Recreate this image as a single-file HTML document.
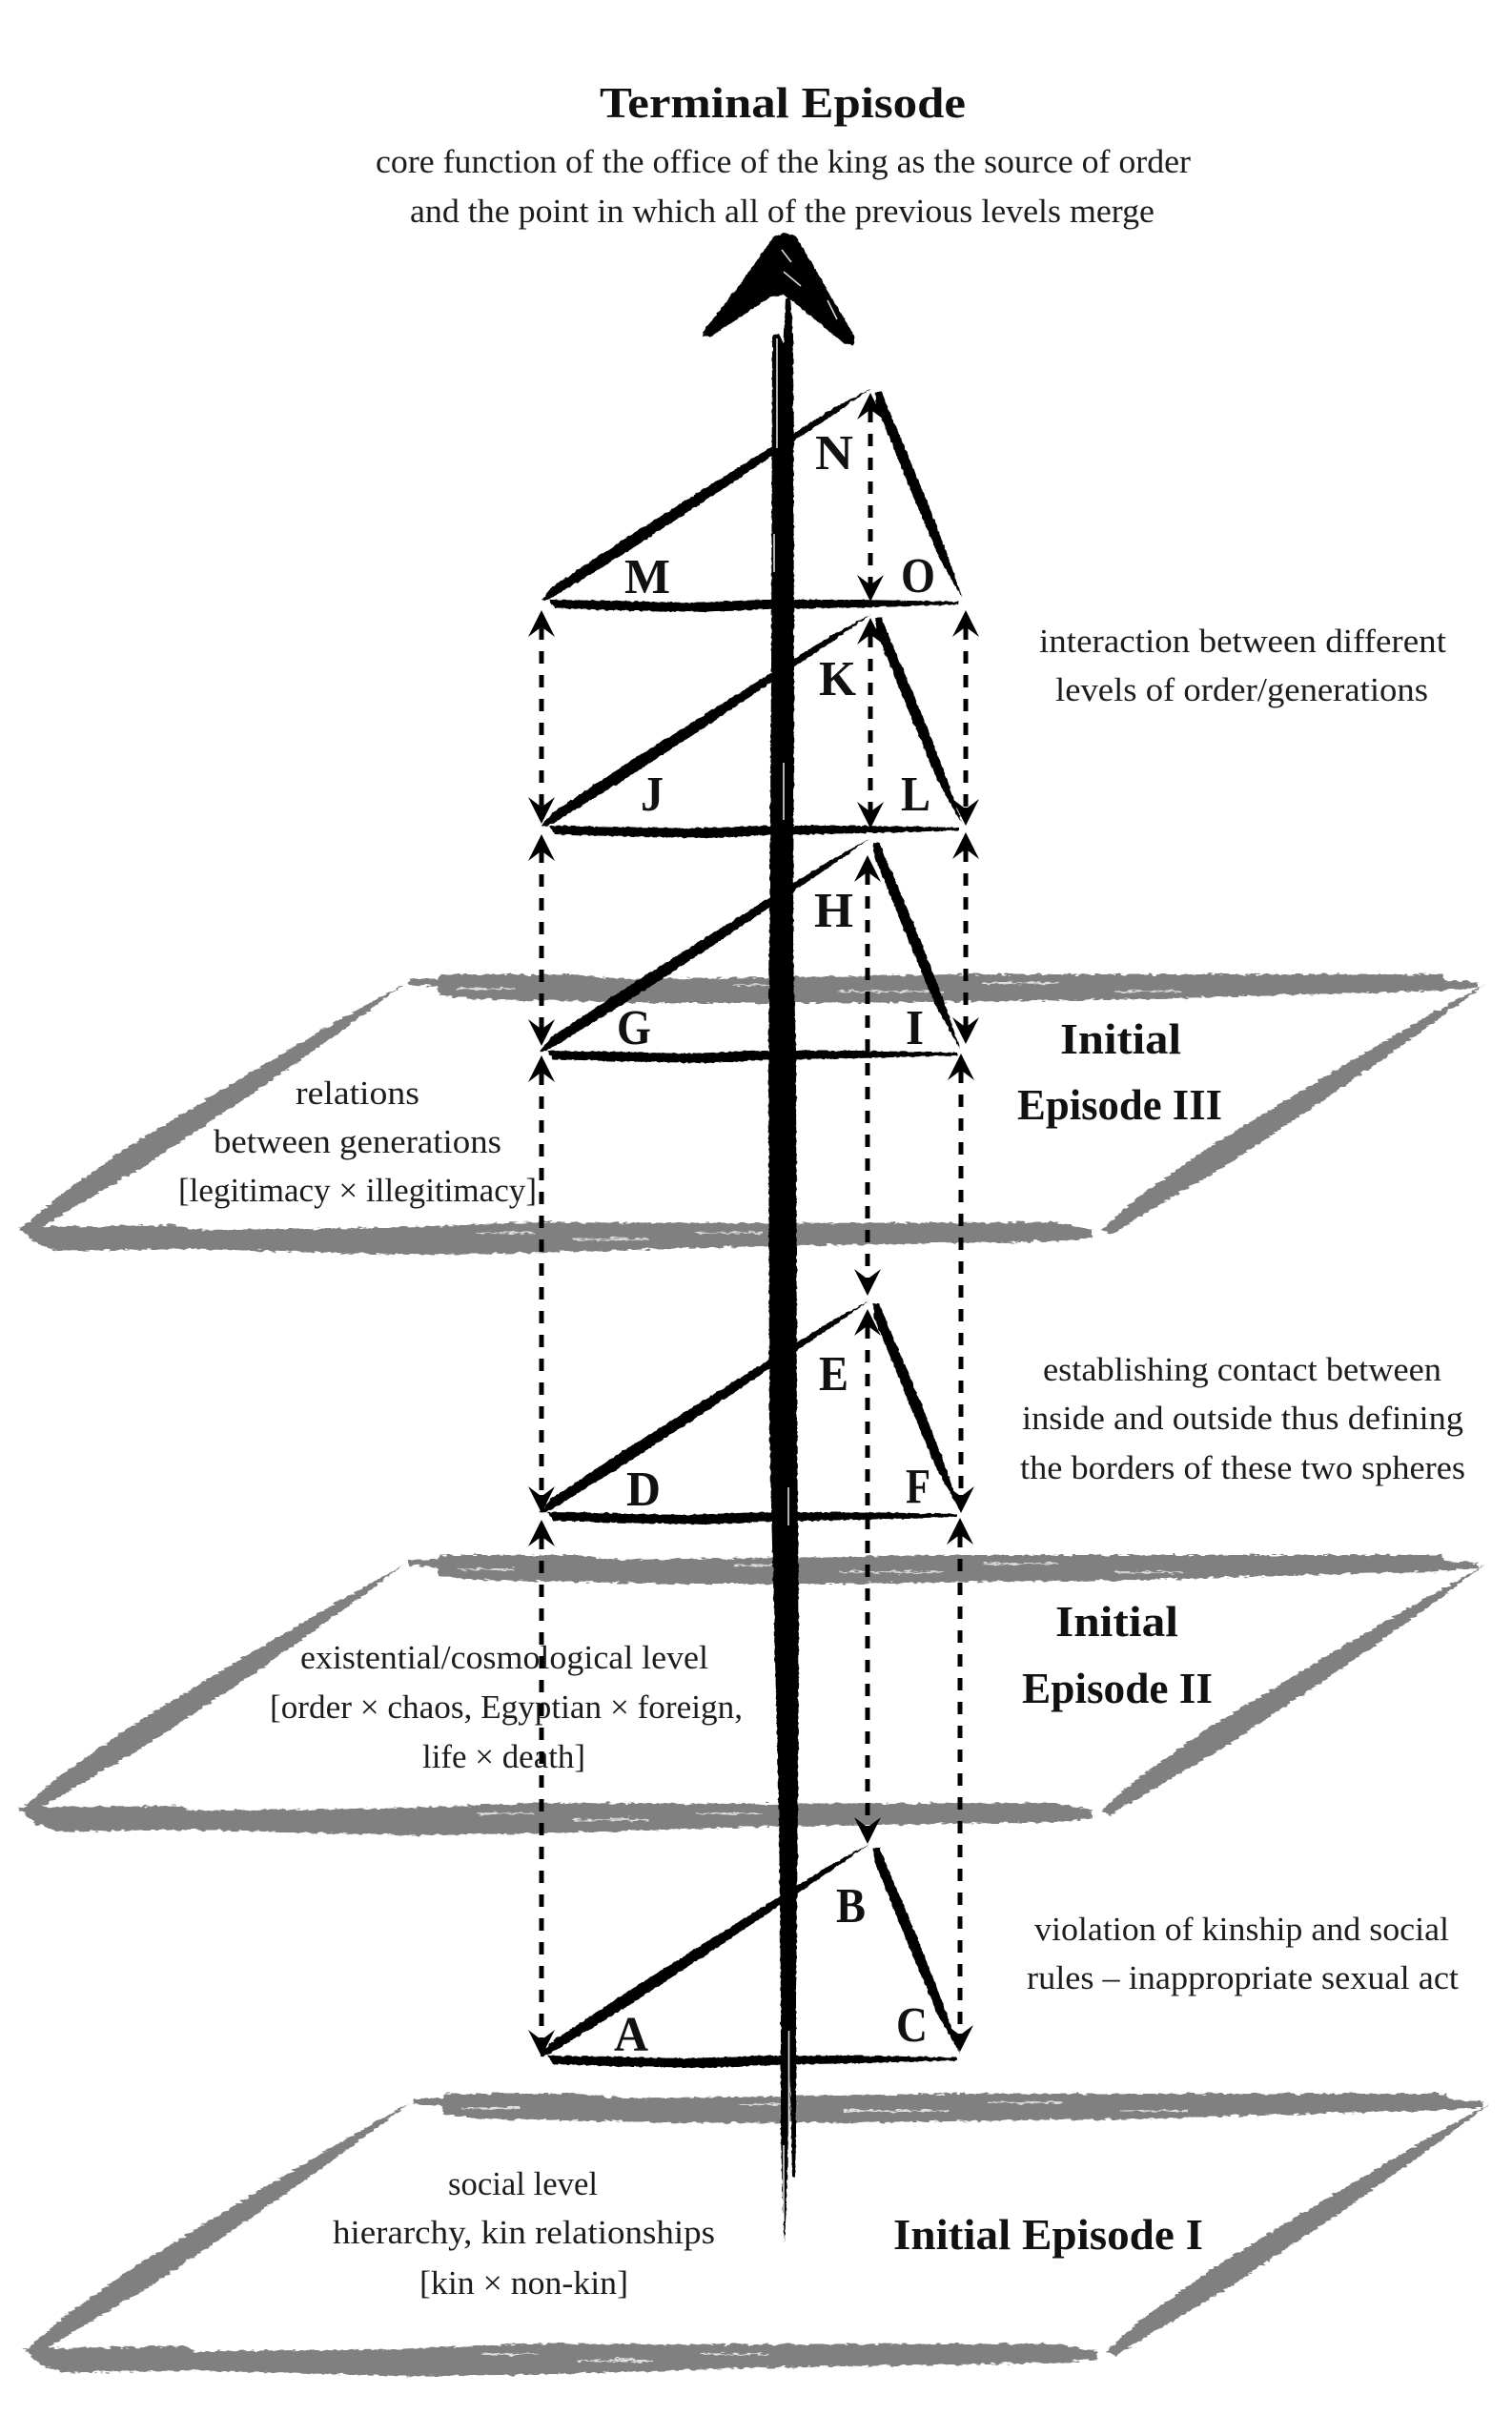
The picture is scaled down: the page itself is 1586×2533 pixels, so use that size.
<!DOCTYPE html>
<html lang="en"><head><meta charset="utf-8"><title>Episodes diagram</title>
<style>
html,body{margin:0;padding:0;background:#fff}
svg{display:block}
text{font-family:"Liberation Serif",serif;fill:#1c1c1c;font-size:35px}
.b{font-weight:bold;font-size:46px;fill:#111}
.l{font-weight:bold;font-size:52px;fill:#111}
</style></head><body>
<svg xmlns="http://www.w3.org/2000/svg" width="1586" height="2533" viewBox="0 0 1586 2533">
<defs>
<filter id="rg" filterUnits="userSpaceOnUse" x="0" y="0" width="1586" height="2533">
<feTurbulence type="fractalNoise" baseFrequency="0.12 0.35" numOctaves="2" seed="4" result="n"/>
<feDisplacementMap in="SourceGraphic" in2="n" scale="6" xChannelSelector="R" yChannelSelector="G"/>
</filter>
<filter id="rk" filterUnits="userSpaceOnUse" x="0" y="0" width="1586" height="2533">
<feTurbulence type="fractalNoise" baseFrequency="0.2" numOctaves="2" seed="9" result="n"/>
<feDisplacementMap in="SourceGraphic" in2="n" scale="3" xChannelSelector="R" yChannelSelector="G"/>
</filter>
<polygon id="sl" points="21,1290 58,1257 135,1202.6 256.6,1128.6 358.3,1068.8 424,1032 363.7,1077.2 267.4,1145.4 149,1224.4 68,1272 31,1295"/>
<g id="plane">
<use href="#sl"/>
<use href="#sl" x="1134"/>
<polygon points="429,1027 460,1027 462,1022 600,1022 650,1027 800,1025 1000,1022 1200,1022 1512,1022 1515,1028 1550,1030 1550,1036 1510,1039 1330,1044 1200,1048 900,1052 700,1052 500,1048 461,1044 458,1034 429,1033"/>
<polygon points="19,1287 190,1285 200,1290 400,1288 560,1282 800,1283 1107,1282 1146,1290 1146,1298 1107,1302 800,1307 560,1314 430,1316 200,1310 60,1312 38,1304"/>
<g stroke="#fff" stroke-width="1.6" fill="none" opacity=".75">
<path d="M770 1033H830M880 1040H990M1030 1031H1110M1170 1040H1240M480 1037H540"/>
<path d="M500 1293H560M600 1300H680M730 1293H800M640 1298H660"/>
</g>
</g>
<g id="tri">
<polygon points="566,1102 578,1088 652,1039 736.8,985.500 805,943 873,901 912,880 875,906 808.200,951 741.200,996 657,1051 582,1097 570,1103"/>
<polygon points="916,884 923,884 927,895 967,990 992,1055 1007,1100 983,1058 956,994 917,898"/>
<polygon points="574,1102 640,1103 720,1105 800,1102 900,1102 1004,1104 1004,1107 900,1110 800,1112 740,1115 640,1113 580,1111"/>
</g>
<polygon id="u" points="0,0 14,28 2,19 -2,19 -14,28" fill="#000"/>
<polygon id="d" points="0,0 14,-28 2,-19 -2,-19 -14,-28" fill="#000"/>
</defs>
<rect width="1586" height="2533" fill="#fff"/>

<!-- planes -->
<g fill="#808080" filter="url(#rg)">
<use href="#plane"/>
<use href="#plane" transform="translate(0,609)"/>
<use href="#plane" transform="matrix(1,0,0,1.008,5,1165.8)"/>
</g>

<!-- labels -->
<text class="b" x="629" y="123" textLength="384" lengthAdjust="spacingAndGlyphs">Terminal Episode</text>
<text x="394" y="181" textLength="855" lengthAdjust="spacingAndGlyphs">core function of the office of the king as the source of order</text>
<text x="430" y="233" textLength="781" lengthAdjust="spacingAndGlyphs">and the point in which all of the previous levels merge</text>
<text x="1090" y="684" textLength="427" lengthAdjust="spacingAndGlyphs">interaction between different</text>
<text x="1107" y="735" textLength="391" lengthAdjust="spacingAndGlyphs">levels of order/generations</text>
<text class="b" x="1112" y="1105" textLength="127" lengthAdjust="spacingAndGlyphs">Initial</text>
<text class="b" x="1067" y="1174" textLength="215" lengthAdjust="spacingAndGlyphs">Episode III</text>
<text x="310" y="1158" textLength="130" lengthAdjust="spacingAndGlyphs">relations</text>
<text x="224" y="1209" textLength="302" lengthAdjust="spacingAndGlyphs">between generations</text>
<text x="187" y="1260" textLength="376" lengthAdjust="spacingAndGlyphs">[legitimacy × illegitimacy]</text>
<text x="1094" y="1448" textLength="418" lengthAdjust="spacingAndGlyphs">establishing contact between</text>
<text x="1072" y="1499" textLength="463" lengthAdjust="spacingAndGlyphs">inside and outside thus defining</text>
<text x="1070" y="1551" textLength="467" lengthAdjust="spacingAndGlyphs">the borders of these two spheres</text>
<text class="b" x="1107" y="1716" textLength="129" lengthAdjust="spacingAndGlyphs">Initial</text>
<text class="b" x="1072" y="1786" textLength="200" lengthAdjust="spacingAndGlyphs">Episode II</text>
<text x="315" y="1750" textLength="428" lengthAdjust="spacingAndGlyphs">existential/cosmological level</text>
<text x="283" y="1802" textLength="496" lengthAdjust="spacingAndGlyphs">[order × chaos, Egyptian × foreign,</text>
<text x="443" y="1854" textLength="171" lengthAdjust="spacingAndGlyphs">life × death]</text>
<text x="1085" y="2035" textLength="435" lengthAdjust="spacingAndGlyphs">violation of kinship and social</text>
<text x="1077" y="2086" textLength="453" lengthAdjust="spacingAndGlyphs">rules – inappropriate sexual act</text>
<text x="470" y="2302" textLength="157" lengthAdjust="spacingAndGlyphs">social level</text>
<text x="349" y="2353" textLength="401" lengthAdjust="spacingAndGlyphs">hierarchy, kin relationships</text>
<text x="440" y="2406" textLength="219" lengthAdjust="spacingAndGlyphs">[kin × non-kin]</text>
<text class="b" x="937" y="2359" textLength="325" lengthAdjust="spacingAndGlyphs">Initial Episode I</text>

<text class="l" x="655" y="622" textLength="48" lengthAdjust="spacingAndGlyphs">M</text>
<text class="l" x="855" y="492" textLength="40" lengthAdjust="spacingAndGlyphs">N</text>
<text class="l" x="945" y="621" textLength="36" lengthAdjust="spacingAndGlyphs">O</text>
<text class="l" x="672" y="850" textLength="24" lengthAdjust="spacingAndGlyphs">J</text>
<text class="l" x="859" y="729" textLength="39" lengthAdjust="spacingAndGlyphs">K</text>
<text class="l" x="945" y="850" textLength="31" lengthAdjust="spacingAndGlyphs">L</text>
<text class="l" x="647" y="1095" textLength="36" lengthAdjust="spacingAndGlyphs">G</text>
<text class="l" x="854" y="972" textLength="41" lengthAdjust="spacingAndGlyphs">H</text>
<text class="l" x="950" y="1095" textLength="19" lengthAdjust="spacingAndGlyphs">I</text>
<text class="l" x="657" y="1579" textLength="36" lengthAdjust="spacingAndGlyphs">D</text>
<text class="l" x="859" y="1458" textLength="31" lengthAdjust="spacingAndGlyphs">E</text>
<text class="l" x="950" y="1576" textLength="26" lengthAdjust="spacingAndGlyphs">F</text>
<text class="l" x="644" y="2151" textLength="36" lengthAdjust="spacingAndGlyphs">A</text>
<text class="l" x="877" y="2016" textLength="31" lengthAdjust="spacingAndGlyphs">B</text>
<text class="l" x="940" y="2141" textLength="33" lengthAdjust="spacingAndGlyphs">C</text>

<!-- triangles and central arrow -->
<g fill="#000" filter="url(#rk)">
<use href="#tri" transform="translate(2,-473)"/>
<use href="#tri" transform="translate(2,-236)"/>
<use href="#tri"/>
<use href="#tri" transform="translate(0,484)"/>
<use href="#tri" transform="translate(0,1054)"/>
<polygon points="823,244 835,248 897,354 895,362 885,360 830,315 822,309 808,312 745,353 737,353 738,347 775,300 810,250"/>
<polygon points="824,312 829,312 832,350 833,700 832,1000 835,1100 836,1500 838,1700 837,1900 835,2100 835,2240 834,2283 831,2283 829,2180 827,2240 825,2310 823,2353 821,2310 819,2240 819,2100 817,1900 812,1700 807,1500 806,1100 807,1000 809,700 810,352 817,350 822,360"/>
</g>
<g stroke="#fff" fill="none" stroke-width="1.6" opacity=".85">
<path d="M815 355V470M827.500 2130V2270M822 2250V2330M822 800V860M812 560V600M827 1560V1600"/>
<path d="M820 262L830 275M822 285L840 300M868 315L878 335"/>
</g>

<!-- dashed double arrows -->
<g stroke="#000" stroke-width="5" stroke-dasharray="13 12" fill="none">
<path d="M568 658V846M568 892V1080M568 1125V1569M568 1612V2139"/>
<path d="M1013 658V848M1013 891V1077M1008 1123V1569M1007 1610V2134"/>
<path d="M913 430V613M913 666V851M910 915V1341M910 1391V1916"/>
</g>
<g>
<use href="#u" x="568" y="640"/><use href="#d" x="568" y="864"/>
<use href="#u" x="568" y="875"/><use href="#d" x="568" y="1097"/>
<use href="#u" x="568" y="1107"/><use href="#d" x="568" y="1587"/>
<use href="#u" x="568" y="1594"/><use href="#d" x="568" y="2157"/>
<use href="#u" x="1013" y="640"/><use href="#d" x="1013" y="866"/>
<use href="#u" x="1013" y="873"/><use href="#d" x="1013" y="1095"/>
<use href="#u" x="1008" y="1105"/><use href="#d" x="1008" y="1587"/>
<use href="#u" x="1007" y="1592"/><use href="#d" x="1007" y="2152"/>
<use href="#u" x="913" y="412"/><use href="#d" x="913" y="631"/>
<use href="#u" x="913" y="648"/><use href="#d" x="913" y="869"/>
<use href="#u" x="910" y="897"/><use href="#d" x="910" y="1359"/>
<use href="#u" x="910" y="1373"/><use href="#d" x="910" y="1934"/>
</g>
</svg>
</body></html>
